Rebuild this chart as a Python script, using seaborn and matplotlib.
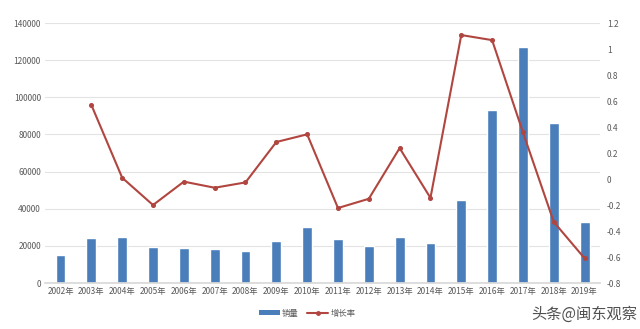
import matplotlib
matplotlib.use("Agg")
import matplotlib.pyplot as plt
import seaborn as sns
import numpy as np
import pandas as pd
from matplotlib.lines import Line2D
from matplotlib.patches import Patch

years = [f"{y}年" for y in range(2002, 2020)]
sales = [15000, 24000, 24600, 19600, 19000, 18100, 17300, 22500, 30300, 23500,
         19900, 24900, 21300, 44700, 93000, 126900, 86100, 32900]
growth = [np.nan, 0.57, 0.01, -0.20, -0.02, -0.067, -0.026, 0.285, 0.344, -0.223,
          -0.152, 0.238, -0.145, 1.108, 1.069, 0.36, -0.33, -0.61]
left_ticks = [0, 20000, 40000, 60000, 80000, 100000, 120000, 140000]
right_ticks = [-0.8, -0.6, -0.4, -0.2, 0, 0.2, 0.4, 0.6, 0.8, 1, 1.2]

sns.set_theme(style="white")
plt.rcParams['font.family'] = ['Noto Sans CJK SC', 'DejaVu Sans']

bar_color = "#4A7EBB"
line_color = "#B0463F"
txt = "#595959"

df = pd.DataFrame({"year": years, "sales": sales, "growth": growth})

fig = plt.figure(figsize=(6.4, 3.29), dpi=100)
ax = fig.add_axes([0.0705, 0.1398, 0.867, 0.790])
sns.barplot(data=df, x="year", y="sales", order=years, color=bar_color,
            width=0.32, saturation=1, ax=ax)
ax.set_ylim(0, 140000)
ax.set_yticks(left_ticks)
ax.set_yticklabels([str(v) for v in left_ticks])
ax.yaxis.grid(True, color="#E3E3E3", linewidth=0.8)
ax.set_axisbelow(True)
ax.set_xlabel("")
ax.set_ylabel("")
for s in ["top", "right", "left"]:
    ax.spines[s].set_visible(False)
ax.spines["bottom"].set_color("#D9D9D9")
ax.tick_params(axis="both", length=0, labelsize=6, colors=txt, pad=3)

ax2 = ax.twinx()
sns.pointplot(data=df.dropna(), x="year", y="growth", order=years, color=line_color,
              markers="o", markersize=2.5, linewidth=1.5, ax=ax2)
ax2.set_ylim(-0.8, 1.2)
ax2.set_yticks(right_ticks)
ax2.set_yticklabels([f"{v:g}" for v in right_ticks])
ax2.set_ylabel("")
ax2.set_xlabel("")
for s in ["top", "right", "left", "bottom"]:
    ax2.spines[s].set_visible(False)
ax2.tick_params(axis="both", length=0, labelsize=6, colors=txt, pad=5)
ax.set_xlim(-0.5, len(years) - 0.5)

handles = [Patch(facecolor=bar_color, edgecolor="none"),
           Line2D([0], [0], color=line_color, marker="o", markersize=2.5, linewidth=1.5)]
fig.legend(handles, ["销量", "增长率"], loc="center", bbox_to_anchor=(0.48, 0.048),
           ncol=2, frameon=False, fontsize=6, labelcolor=txt, handlelength=2.5,
           handleheight=0.5, columnspacing=1.0, handletextpad=0.3)

fig.text(0.995, 0.045, "头条@闽东观察", ha="right", va="center", fontsize=11,
         color="#333333", alpha=0.85)

fig.savefig("out.png", dpi=100)
